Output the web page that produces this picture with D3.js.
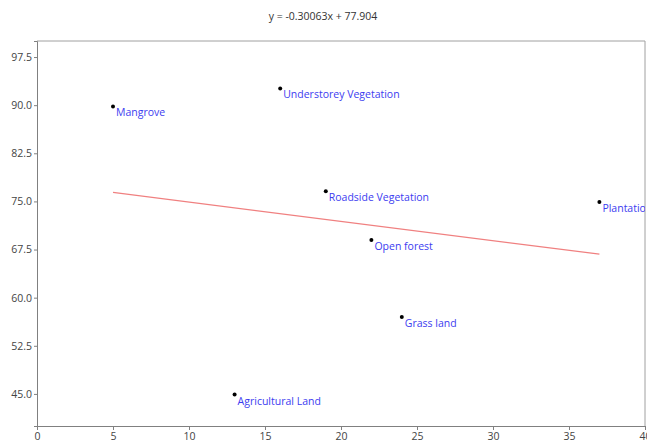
<!DOCTYPE html>
<html><head><meta charset="utf-8">
<script src="https://cdn.jsdelivr.net/npm/d3@7"></script>
<style>body{margin:0;background:#fff}svg{display:block}</style>
</head><body>
<script>
const categories = ["Mangrove","Understorey Vegetation","Roadside Vegetation","Plantation","Open forest","Grass land","Agricultural Land"];
const xValues = [5,16,19,37,22,24,13];
const yValues = [89.8,92.6,76.6,74.9,69.0,57.0,44.9];
const xTicks = [0,5,10,15,20,25,30,35,40];
const yTicks = [45.0,52.5,60.0,67.5,75.0,82.5,90.0,97.5];
const slope = -0.30063, intercept = 77.904;
const title = "y = -0.30063x + 77.904";

const W = 647, H = 447;
const m = {left:37, right:2, top:41, bottom:21};
const svg = d3.select("body").append("svg").attr("width",W).attr("height",H);
const x = d3.scaleLinear().domain([0,40]).range([m.left, W-m.right]);
const y = d3.scaleLinear().domain([40,100]).range([H-m.bottom, m.top]);
const font = "'Open Sans', 'Noto Sans', sans-serif";

svg.append("text").attr("x",323).attr("y",20).attr("text-anchor","middle")
  .attr("font-family",font).attr("font-size",10.5).attr("fill","#333").text(title);

svg.append("defs").append("clipPath").attr("id","clip").append("rect")
  .attr("x",m.left).attr("y",m.top).attr("width",W-m.right-m.left).attr("height",H-m.bottom-m.top);

// frame
svg.append("path").attr("d",`M${m.left},${m.top}H${W-m.right}V${H-m.bottom}`)
  .attr("fill","none").attr("stroke","#a0a0a0").attr("stroke-width",1);

const xa = svg.append("g").attr("transform",`translate(0,${H-m.bottom})`)
  .call(d3.axisBottom(x).tickValues(xTicks).tickFormat(d3.format("d")).tickSizeOuter(0).tickSize(4).tickPadding(3));
const ya = svg.append("g").attr("transform",`translate(${m.left},0)`)
  .call(d3.axisLeft(y).tickValues(yTicks).tickFormat(d3.format(".1f")).tickSizeOuter(0).tickSize(3).tickPadding(2));
[xa,ya].forEach(a=>{
  a.select(".domain").attr("stroke","#808080");
  a.selectAll(".tick line").attr("stroke","#808080");
  a.selectAll("text").attr("font-family",font).attr("font-size",10.5).attr("fill","#444");
});

const plot = svg.append("g").attr("clip-path","url(#clip)");
const x0 = d3.min(xValues), x1 = d3.max(xValues);
plot.append("line").attr("x1",x(x0)).attr("y1",y(slope*x0+intercept))
  .attr("x2",x(x1)).attr("y2",y(slope*x1+intercept))
  .attr("stroke","#f08080").attr("stroke-width",1.2);

const data = categories.map((c,i)=>({c, x:xValues[i], y:yValues[i]}));
plot.selectAll("circle").data(data).enter().append("circle")
  .attr("cx",d=>x(d.x)).attr("cy",d=>y(d.y)).attr("r",2).attr("fill","#000");
plot.selectAll("text.lbl").data(data).enter().append("text").attr("class","lbl")
  .attr("x",d=>x(d.x)+3).attr("y",d=>y(d.y)+10)
  .attr("font-family",font).attr("font-size",10.5).attr("fill","#3c3cf0").text(d=>d.c);
</script>
</body></html>
